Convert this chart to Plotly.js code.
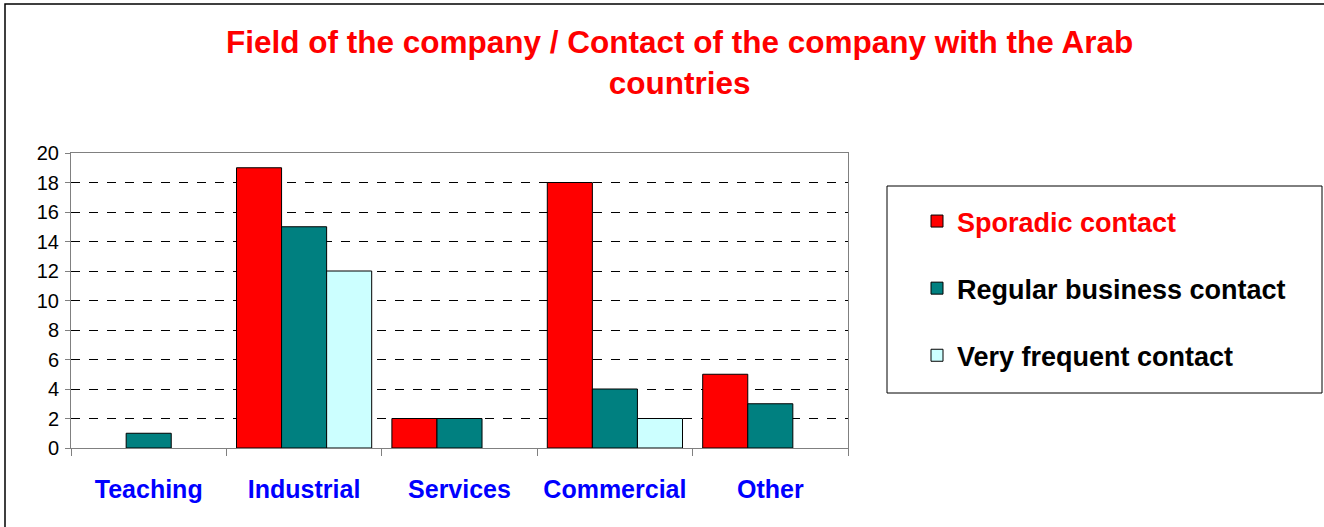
<!DOCTYPE html>
<html>
<head>
<meta charset="utf-8">
<script src="https://cdn.plot.ly/plotly-3.0.1.min.js"></script>
<style>html,body{margin:0;padding:0;background:#fff;}#chart{width:1324px;height:527px;}</style>
</head>
<body>
<div id="chart"></div>
<script>
const categories = ["Teaching", "Industrial", "Services", "Commercial", "Other"];
const seriesNames = ["Sporadic contact", "Regular business contact", "Very frequent contact"];
const sporadic = [0, 19, 2, 18, 5];
const regular = [1, 15, 2, 4, 3];
const veryFrequent = [0, 12, 0, 2, 0];
const yTicks = [0, 2, 4, 6, 8, 10, 12, 14, 16, 18, 20];
const titleText = "Field of the company / Contact of the company with the Arab<br>countries";

const colors = ["#FF0000", "#008080", "#CCFFFF"];
const legendNames = [
  '<span style="color:#FF0000">' + seriesNames[0] + '</span>',
  seriesNames[1],
  seriesNames[2]
];
const values = [sporadic, regular, veryFrequent];

const traces = values.map((v, i) => ({
  type: "bar",
  x: categories,
  y: v.map(d => (d === 0 ? null : d)),
  name: legendNames[i],
  legendgroup: "g" + i,
  marker: { color: colors[i], line: { color: "#000000", width: 1 } },
  hoverinfo: "skip"
}));

const L = 71, R = 848, T = 153, B = 448;
const W = R - L, H = B - T;
const px = p => (p - L) / W;
const py = p => (B - p) / H;
const FONT = "Liberation Sans, Arial, sans-serif";

const layout = {
  width: 1324, height: 527,
  margin: { l: L, r: 1324 - R, t: T, b: 527 - B, pad: 0 },
  paper_bgcolor: "#ffffff",
  plot_bgcolor: "#ffffff",
  font: { family: FONT, color: "#000" },
  barmode: "group",
  bargap: 0.13,
  bargroupgap: 0,
  showlegend: true,
  legend: {
    x: px(917), xanchor: "left",
    y: py(197), yanchor: "top",
    font: { size: 27, weight: "bold", family: FONT, color: "#000" },
    traceorder: "grouped",
    tracegroupgap: 29,
    bgcolor: "rgba(0,0,0,0)",
    borderwidth: 0
  },
  xaxis: {
    type: "category",
    showline: true, linecolor: "#808080", linewidth: 1, mirror: true,
    ticks: "outside", tickson: "boundaries", ticklen: 7, tickcolor: "#808080",
    tickangle: 0,
    tickfont: { size: 25, color: "#0000FF", weight: "bold", family: FONT },
    ticklabelstandoff: 19,
    showgrid: false, zeroline: false,
    fixedrange: true
  },
  yaxis: {
    range: [0, 20],
    tickmode: "array", tickvals: yTicks, ticktext: yTicks.map(String),
    showline: true, linecolor: "#808080", linewidth: 1, mirror: true,
    ticks: "outside", ticklen: 5, tickcolor: "#808080",
    tickfont: { size: 20, color: "#000" },
    ticklabelstandoff: 2,
    showgrid: true, gridcolor: "#000000", griddash: "dash", gridwidth: 1,
    zeroline: false,
    fixedrange: true
  },
  annotations: [
    { text: titleText, xref: "paper", yref: "paper",
      x: px(679), xanchor: "center", y: py(22), yanchor: "top",
      showarrow: false, align: "center",
      font: { family: FONT, size: 31.5, color: "#FF0000", weight: "bold" } }
  ],
  shapes: [
    { type: "rect", xref: "paper", yref: "paper", layer: "below",
      x0: px(5), x1: px(1340), y0: py(4), y1: py(540),
      line: { color: "#000", width: 1.5 }, fillcolor: "rgba(0,0,0,0)" },
    { type: "rect", xref: "paper", yref: "paper", layer: "below",
      x0: px(887), x1: px(1322), y0: py(393), y1: py(186),
      line: { color: "#000", width: 1 }, fillcolor: "rgba(0,0,0,0)" }
  ]
};

Plotly.newPlot("chart", traces, layout, { displayModeBar: false, staticPlot: true });
</script>
</body>
</html>
